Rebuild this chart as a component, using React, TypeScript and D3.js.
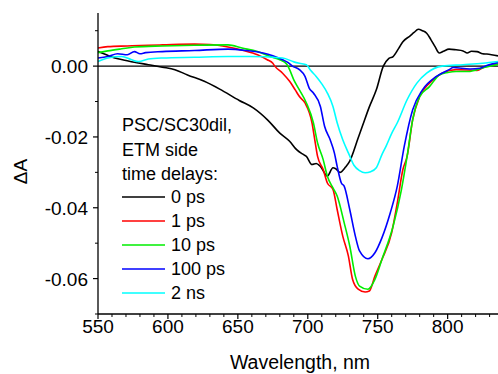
import React from "react";
import * as d3 from "d3";

// ---- data (wavelength nm, ΔA) ----
const wl0ps = [550,556,562,570,576,586,596,605,614,626,637,651,661,671,680,687,692,697,699,703,706,709,714,718,720,723,727,730,736,739,744,749,754,758,761,765,768,773,776,779,782,785,788,791,794,797,801,806,811,814,817,821,825,828,836];
const dA0ps = [0.0041,0.0032,0.0023,0.0016,0.0011,0.0004,-0.0003,-0.001,-0.0025,-0.0043,-0.0065,-0.0097,-0.0118,-0.0151,-0.0189,-0.0212,-0.0236,-0.025,-0.0255,-0.0278,-0.0275,-0.0283,-0.031,-0.0287,-0.029,-0.03,-0.0285,-0.0268,-0.0203,-0.017,-0.0115,-0.0067,0.0,0.0022,0.0027,0.005,0.0069,0.0085,0.0095,0.0104,0.01,0.0093,0.0075,0.0055,0.0037,0.0042,0.0048,0.0046,0.0043,0.0037,0.0042,0.0041,0.0035,0.0034,0.0029];

const wl1ps = [550,557,571,586,596,619,630,643,654,664,671,675,676.4,682,687,691,694,698,703,705,707,711,714,718,721,725,729,732,736,741,744,748,753,760,764,768,771,775,780,787,796,806,821,826,836];
const dA1ps = [0.0051,0.0055,0.0057,0.0059,0.006,0.0062,0.0061,0.0054,0.0044,0.0032,0.0018,0.0008,0.0,-0.002,-0.0043,-0.0067,-0.0086,-0.0104,-0.016,-0.0208,-0.0255,-0.0292,-0.033,-0.0348,-0.0405,-0.048,-0.0536,-0.0602,-0.063,-0.0638,-0.0635,-0.0593,-0.0546,-0.047,-0.0386,-0.0292,-0.0255,-0.0151,-0.0086,-0.0048,-0.002,-0.001,-0.0012,-0.0003,0.0006];

const wl10ps = [550,557,567,576,596,619,643,653,664,673,680,685,687,690,694,699,704,707,711,714,718,721,726,730,734,737,743,748,753,761,767,771,775,780,787,794,800,806,816,821,826,836];
const dA10ps = [0.0038,0.0043,0.0049,0.0054,0.0057,0.0059,0.006,0.0051,0.0041,0.0027,0.0018,0.0005,-0.001,-0.0039,-0.0067,-0.0104,-0.016,-0.0217,-0.0264,-0.0311,-0.0344,-0.0367,-0.0442,-0.0508,-0.0593,-0.0621,-0.063,-0.0602,-0.0546,-0.0452,-0.0348,-0.0255,-0.0151,-0.0086,-0.0058,-0.0025,-0.0018,-0.0015,-0.0015,-0.001,-0.0004,0.0005];

const wl100ps = [550,557,564,571,576,580,584,596,619,643,656,668,675,682,686,689,694,698,701,704,709,712,716,719,721,724,726,730,734,737,743,748,753,759,764,769,775,782,792,801,804,816,823,828,836];
const dA100ps = [0.0023,0.0027,0.0035,0.0032,0.0041,0.0035,0.0038,0.0041,0.0044,0.0048,0.0044,0.0037,0.0029,0.0018,0.001,0.0,-0.001,-0.0029,-0.0062,-0.0076,-0.0114,-0.017,-0.0208,-0.0245,-0.0283,-0.033,-0.0339,-0.0405,-0.048,-0.0522,-0.0544,-0.0527,-0.0485,-0.0414,-0.0339,-0.0226,-0.0123,-0.0067,-0.0029,-0.001,-0.0004,-0.0008,-0.0006,0.0002,0.001];

const wl2ns = [550,557,567,574,579,586,596,619,643,658,682,690,694,699,702,706,710,714,718,721,725,729,733,737,741,745,749,753,756,760,764,771,778,785,796,811,825,836];
const dA2ns = [0.0013,0.0023,0.0027,0.0018,0.0013,0.002,0.0023,0.0025,0.0027,0.0027,0.0023,0.0012,0.0008,0.0004,-0.0012,-0.0029,-0.005,-0.0076,-0.0114,-0.016,-0.0208,-0.0245,-0.028,-0.0295,-0.0301,-0.0298,-0.0287,-0.025,-0.0226,-0.019,-0.016,-0.0095,-0.0048,-0.002,0.0,0.0004,0.0008,0.0013];

const seriesNames = ["0 ps", "1 ps", "10 ps", "100 ps", "2 ns"];
const seriesColors = ["#000000", "#ff0000", "#00ee00", "#0000ff", "#00ffff"];
const seriesX = [wl0ps, wl1ps, wl10ps, wl100ps, wl2ns];
const seriesY = [dA0ps, dA1ps, dA10ps, dA100ps, dA2ns];

const xTicks = [550, 600, 650, 700, 750, 800];
const yTicks = [0.0, -0.02, -0.04, -0.06];
const legendTitle = ["PSC/SC30dil,", "ETM side", "time delays:"];

const W = 498, H = 374;
const L = 98, R = 498, T = 13, B = 314;
const FONT = "'Liberation Sans', Arial, Helvetica, sans-serif";

const fmtY = (v: number) => (v < 0 ? "-" : "") + Math.abs(v).toFixed(2);

export default function App() {
  const x = d3.scaleLinear().domain([550, 836]).range([L, R]);
  const y = d3.scaleLinear().domain([-0.07, 0.015]).range([B, T]);
  const line = d3.line<[number, number]>()
    .x(d => x(d[0])).y(d => y(d[1]))
    .curve(d3.curveMonotoneX);

  const xMinor = d3.range(550, 837, 10).filter(v => v % 50 !== 0);
  const yMinor = [0.01, -0.01, -0.03, -0.05, -0.07];

  return (
    <svg width={W} height={H} style={{ position: "absolute", left: 0, top: 0 }} fontFamily={FONT}>
      <rect width={W} height={H} fill="#fff" />
      <line x1={L} x2={R} y1={y(0)} y2={y(0)} stroke="#000" strokeWidth={1.2} />
      {seriesX.map((xs, i) => (
        <path key={i} d={line(xs.map((v, j) => [v, seriesY[i][j]] as [number, number])) || ""}
          fill="none" stroke={seriesColors[i]} strokeWidth={1.6} strokeLinejoin="round" />
      ))}
      <line x1={L} x2={L} y1={T} y2={B} stroke="#000" strokeWidth={1.3} />
      <line x1={L} x2={R} y1={B} y2={B} stroke="#000" strokeWidth={1.3} />
      {xTicks.map(t => (
        <g key={"xt" + t}>
          <line x1={x(t)} x2={x(t)} y1={B} y2={B + 5} stroke="#000" strokeWidth={1.2} />
          <text x={x(t)} y={B + 19} textAnchor="middle" fontSize={19}>{t}</text>
        </g>
      ))}
      {xMinor.map(t => (
        <line key={"xm" + t} x1={x(t)} x2={x(t)} y1={B} y2={B + 3} stroke="#000" strokeWidth={1} />
      ))}
      {yTicks.map(t => (
        <g key={"yt" + t}>
          <line x1={L - 5} x2={L} y1={y(t)} y2={y(t)} stroke="#000" strokeWidth={1.2} />
          <text x={L - 10} y={y(t) + 7} textAnchor="end" fontSize={19}>{fmtY(t)}</text>
        </g>
      ))}
      {yMinor.map(t => (
        <line key={"ym" + t} x1={L - 3} x2={L} y1={y(t)} y2={y(t)} stroke="#000" strokeWidth={1} />
      ))}
      <text x={300} y={369} textAnchor="middle" fontSize={19.5}>Wavelength, nm</text>
      <text transform={`translate(27,${(T + B) / 2 + 8}) rotate(-90)`} textAnchor="middle" fontSize={19}>ΔA</text>
      {legendTitle.map((s, i) => (
        <text key={"lt" + i} x={122} y={131 + i * 24.5} fontSize={18}>{s}</text>
      ))}
      {seriesNames.map((s, i) => (
        <g key={"lg" + i}>
          <line x1={122} x2={165} y1={197 + i * 24} y2={197 + i * 24} stroke={seriesColors[i]} strokeWidth={1.6} />
          <text x={171} y={203 + i * 24} fontSize={18}>{s}</text>
        </g>
      ))}
    </svg>
  );
}
